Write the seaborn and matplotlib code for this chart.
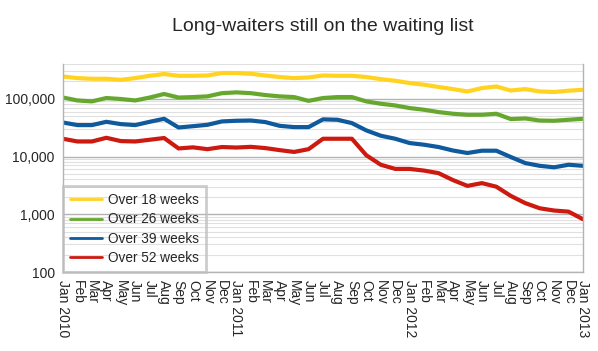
import matplotlib
matplotlib.use("Agg")
import matplotlib.pyplot as plt
import matplotlib.ticker as mticker
import seaborn as sns
import pandas as pd

# monthly figures, Jan 2010 .. Jan 2013
months = ["Jan 2010", "Feb", "Mar", "Apr", "May", "Jun", "Jul", "Aug", "Sep", "Oct", "Nov", "Dec",
          "Jan 2011", "Feb", "Mar", "Apr", "May", "Jun", "Jul", "Aug", "Sep", "Oct", "Nov", "Dec",
          "Jan 2012", "Feb", "Mar", "Apr", "May", "Jun", "Jul", "Aug", "Sep", "Oct", "Nov", "Dec",
          "Jan 2013"]

over_18 = [243000, 228000, 222000, 222000, 213000, 228000, 250000, 268000, 250000, 250000, 253000, 279000,
           279000, 271000, 253000, 238000, 228000, 234000, 253000, 250000, 250000, 238000, 219000, 205000,
           187000, 175000, 160000, 147000, 134000, 153000, 163000, 139000, 147000, 134000, 131000, 138000,
           143000]
over_26 = [105000, 93500, 90000, 103000, 99000, 93500, 105000, 121000, 105000, 107000, 110000, 125000,
           129000, 125000, 116000, 110000, 107000, 92000, 103000, 107000, 107000, 90000, 82000, 76600,
           69000, 64500, 58800, 55000, 52800, 52800, 55000, 44500, 45600, 42000, 41600, 43300,
           45000]
over_39 = [38800, 35000, 35000, 39900, 36400, 35000, 39900, 45000, 31800, 33500, 35400, 40500,
           41600, 42000, 39500, 34000, 32300, 32300, 44000, 43300, 37900, 28300, 22900, 20300,
           17100, 16000, 14600, 12700, 11500, 12600, 12600, 9800, 7700, 6900, 6500, 7200,
           6900]
over_52 = [20300, 18200, 18200, 21100, 18500, 18200, 19500, 20900, 13800, 14400, 13400, 14600,
           14300, 14700, 14000, 12900, 12000, 13400, 20300, 20300, 20300, 10500, 7200, 6100,
           6100, 5700, 5150, 3900, 3100, 3460, 3000, 2080, 1560, 1270, 1160, 1110,
           820]

series = {"Over 18 weeks": over_18, "Over 26 weeks": over_26,
          "Over 39 weeks": over_39, "Over 52 weeks": over_52}
colors = ["#FFD320", "#66A82E", "#0F5A9C", "#CC1A10"]

rows = []
for name, vals in series.items():
    for i, v in enumerate(vals):
        rows.append({"month": i, "count": v, "series": name})
df = pd.DataFrame(rows)

sns.set_style("white")
plt.rcParams["font.family"] = ["Liberation Sans", "DejaVu Sans"]

fig = plt.figure(figsize=(5.98, 3.51), dpi=100)
ax = fig.add_axes([63 / 598, 1 - 272 / 351, 520 / 598, 208 / 351])

sns.lineplot(data=df, x="month", y="count", hue="series", palette=colors,
             linewidth=3, ax=ax)

ax.set_yscale("log")
ax.set_ylim(100, 400000)
ax.set_xlim(0, len(months) - 1)
ax.yaxis.set_major_locator(mticker.LogLocator(base=10, numticks=10))
ax.yaxis.set_minor_locator(mticker.LogLocator(base=10, subs=range(2, 10), numticks=10))
ax.yaxis.set_major_formatter(mticker.FuncFormatter(lambda v, p: f"{int(v):,}"))
ax.yaxis.set_minor_formatter(mticker.NullFormatter())

ax.grid(True, which="major", axis="y", color="#b3b3b3", linewidth=1)
ax.grid(True, which="minor", axis="y", color="#e0e0e0", linewidth=0.8)
ax.set_axisbelow(True)

ax.set_xticks(range(len(months)))
ax.set_xticklabels(months, rotation=270, fontsize=10)
ax.tick_params(axis="x", direction="out", length=4, color="#b3b3b3", pad=2)
ax.tick_params(axis="y", which="major", direction="out", length=4, color="#b3b3b3", labelsize=10, pad=2)
ax.tick_params(axis="y", which="minor", length=0)

for side in ["left", "bottom", "right"]:
    ax.spines[side].set_color("#b3b3b3")
    ax.spines[side].set_linewidth(1)
ax.spines["top"].set_visible(False)

ax.set_xlabel("")
ax.set_ylabel("")
ax.set_title("Long-waiters still on the waiting list", fontsize=14, pad=24)

leg = ax.legend(loc="lower left", bbox_to_anchor=(0, 0), fontsize=9.8, frameon=True,
                fancybox=False, borderaxespad=0, handlelength=2.4, labelspacing=0.4,
                borderpad=0.5, handletextpad=0.4)
leg.get_frame().set_edgecolor("#c0c0c0")
leg.get_frame().set_linewidth(2)
leg.get_frame().set_facecolor("none")
for line in leg.get_lines():
    line.set_linewidth(2)

fig.savefig("out.png", dpi=100)
